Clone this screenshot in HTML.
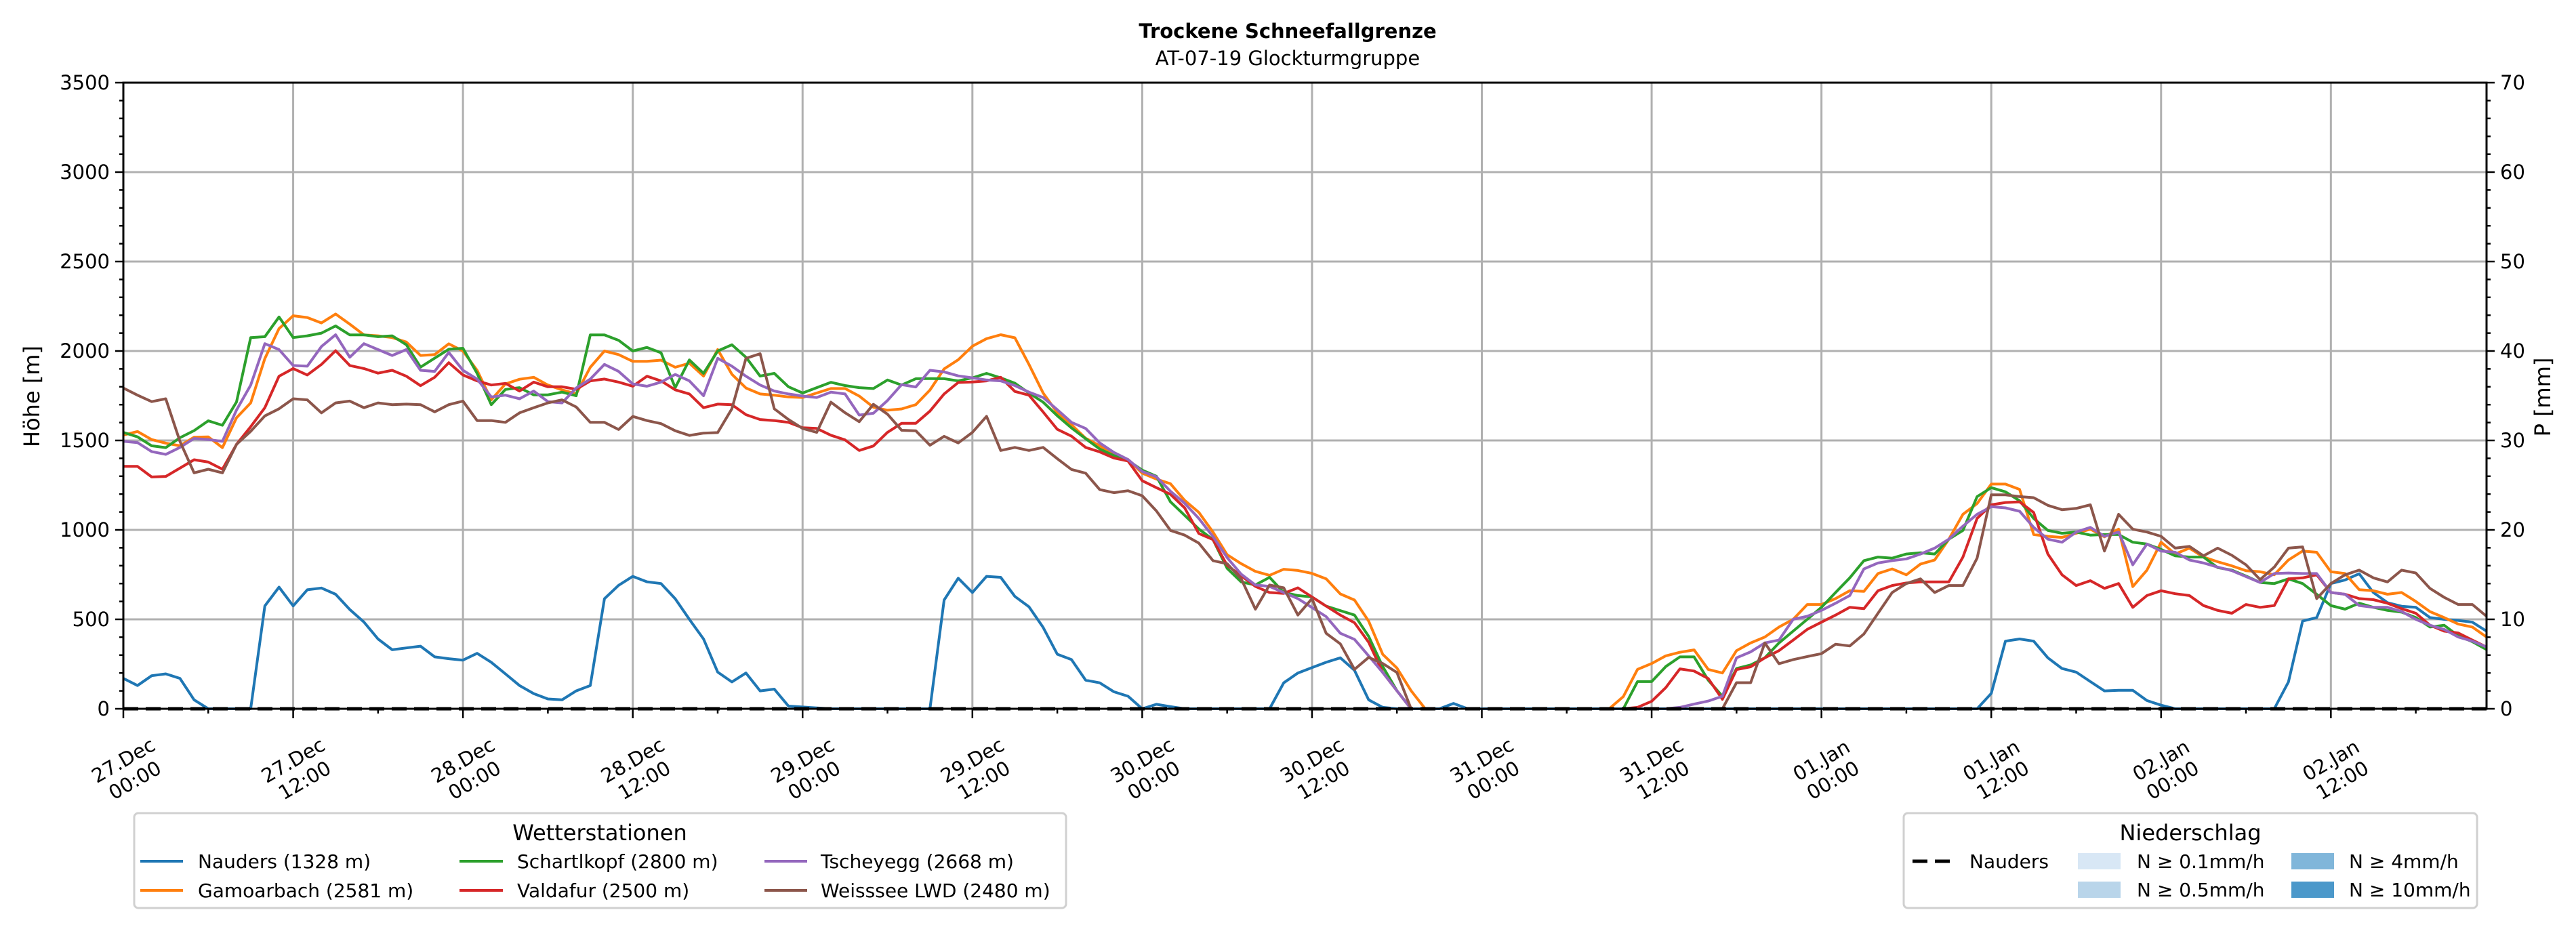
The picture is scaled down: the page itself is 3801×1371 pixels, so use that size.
<!DOCTYPE html>
<html><head><meta charset="utf-8"><style>
html,body{margin:0;padding:0;background:#fff}
svg{display:block;font-family:"DejaVu Sans","Liberation Sans",sans-serif}
</style></head><body>
<svg id="chart" width="3801" height="1371" viewBox="0 0 3801 1371" xmlns="http://www.w3.org/2000/svg">
<rect width="3801" height="1371" fill="#fff"/>
<text x="1900" y="56" font-size="29" font-weight="bold" text-anchor="middle">Trockene Schneefallgrenze</text>
<text x="1900" y="96" font-size="29" text-anchor="middle">AT-07-19 Glockturmgruppe</text>
<g id="grid"></g>
<g id="series"></g>
<g id="axes"></g>
<text transform="translate(58,585) rotate(-90)" font-size="32" text-anchor="middle">Höhe [m]</text>
<text transform="translate(3763,586) rotate(-90)" font-size="32" text-anchor="middle">P [mm]</text>

<g>
<rect x="198" y="1200" width="1375" height="140" rx="6" fill="#fff" stroke="#d0d0d0" stroke-width="3"/>
<text x="885" y="1240" font-size="32" text-anchor="middle">Wetterstationen</text>
<g><line x1="207" y1="1271" x2="270" y2="1271" stroke="#1f77b4" stroke-width="4"/><text x="292" y="1281" font-size="28">Nauders (1328 m)</text></g>
<g><line x1="207" y1="1314" x2="270" y2="1314" stroke="#ff7f0e" stroke-width="4"/><text x="292" y="1324" font-size="28">Gamoarbach (2581 m)</text></g>
<g><line x1="678" y1="1271" x2="742" y2="1271" stroke="#2ca02c" stroke-width="4"/><text x="763" y="1281" font-size="28">Schartlkopf (2800 m)</text></g>
<g><line x1="678" y1="1314" x2="742" y2="1314" stroke="#d62728" stroke-width="4"/><text x="763" y="1324" font-size="28">Valdafur (2500 m)</text></g>
<g><line x1="1128" y1="1271" x2="1191" y2="1271" stroke="#9467bd" stroke-width="4"/><text x="1211" y="1281" font-size="28">Tscheyegg (2668 m)</text></g>
<g><line x1="1128" y1="1314" x2="1191" y2="1314" stroke="#8c564b" stroke-width="4"/><text x="1211" y="1324" font-size="28">Weisssee LWD (2480 m)</text></g>
</g>

<g>
<rect x="2809" y="1200" width="846" height="140" rx="6" fill="#fff" stroke="#d0d0d0" stroke-width="3"/>
<text x="3232" y="1240" font-size="32" text-anchor="middle">Niederschlag</text>
<g><line x1="2822" y1="1271" x2="2882" y2="1271" stroke="#000" stroke-width="5" stroke-dasharray="22 11"/><text x="2906" y="1281" font-size="28">Nauders</text></g>
<g><rect x="3066" y="1259" width="63" height="24" fill="#d8e7f5"/><text x="3153" y="1281" font-size="28">N ≥ 0.1mm/h</text></g>
<g><rect x="3066" y="1301" width="63" height="24" fill="#b9d5ea"/><text x="3153" y="1323" font-size="28">N ≥ 0.5mm/h</text></g>
<g><rect x="3381" y="1259" width="63" height="24" fill="#80b6da"/><text x="3466" y="1281" font-size="28">N ≥ 4mm/h</text></g>
<g><rect x="3381" y="1301" width="63" height="24" fill="#4b98ca"/><text x="3466" y="1323" font-size="28">N ≥ 10mm/h</text></g>
</g>
</svg>
<script>
const hours = Array.from({length:168},(_,i)=>i);
const xTickLabels = ["27.Dec|00:00","27.Dec|12:00","28.Dec|00:00","28.Dec|12:00","29.Dec|00:00","29.Dec|12:00","30.Dec|00:00","30.Dec|12:00","31.Dec|00:00","31.Dec|12:00","01.Jan|00:00","01.Jan|12:00","02.Jan|00:00","02.Jan|12:00"];
const yTicks = [0,500,1000,1500,2000,2500,3000,3500];
const y2Ticks = [0,10,20,30,40,50,60,70];
const N = null;
const nauders = [170,130,185,195,170,50,0,0,0,0, 575,680,575,665,675,640,555,485,390,330, 340,350,290,280,272,310,260,195,130,85, 55,50,100,130,615,690,740,710,700,615, 500,390,205,150,200,100,110,15,10,5, 0,0,0,0,0,0,0,0,608,730, 650,740,735,628,570,455,305,275,160,145, 95,70,0,25,12,0,0,0,0,0, 0,0,145,200,230,260,285,215,50,8, 0,0,0,0,30,0,0,0,0,0, 0,0,0,0,0,0,0,0,0,0, 0,0,0,0,0,0,0,0,0,0, 0,0,0,0,0,0,0,0,0,0, 0,0,86,378,390,378,285,225,205,152, 100,103,103,46,20,0,0,0,0,0, 0,0,0,150,490,510,700,720,755,650, 593,573,567,510,500,494,484,434];
const gamoarbach = [1530,1550,1505,1485,1470,1518,1520,1460,1627,1710, 1958,2125,2197,2187,2157,2207,2150,2090,2085,2075, 2050,1975,1980,2040,2000,1892,1727,1816,1842,1853, 1810,1783,1760,1909,2000,1980,1942,1942,1949,1909, 1932,1860,2008,1870,1793,1760,1753,1743,1740,1765, 1790,1790,1748,1686,1669,1676,1700,1782,1900,1951, 2027,2069,2091,2074,1925,1765,1655,1588,1512,1470, 1419,1393,1317,1284,1258,1165,1098,988,861,811, 768,746,780,773,757,726,642,608,490,304, 228,101,0,N,N,N,N,N,N,N, N,N,N,N,N,0,68,220,253,296, 316,329,220,200,325,368,401,457,500,583, 583,616,660,656,756,782,749,809,832,948, 1087,1147,1256,1256,1226,974,964,958,981,1004, 961,1004,683,775,931,865,898,848,822,799, 772,766,749,832,882,875,766,756,666,660, 640,650,600,543,510,474,457,401];
const schartlkopf = [1545,1520,1470,1460,1515,1555,1610,1585,1715,2075, 2080,2190,2075,2085,2100,2140,2090,2090,2080,2085, 2035,1910,1960,2010,2015,1875,1700,1785,1795,1755, 1755,1770,1750,2090,2090,2060,2000,2020,1990,1795, 1950,1875,2000,2035,1965,1860,1875,1800,1765,1795, 1825,1807,1795,1790,1838,1810,1845,1846,1845,1833, 1850,1875,1850,1820,1765,1714,1638,1570,1510,1452, 1415,1388,1334,1300,1157,1081,1005,946,785,709, 692,735,650,633,625,574,549,524,405,236, 101,0,N,N,N,N,N,N,N,N, N,N,N,N,N,N,0,152,152,236, 290,290,160,70,225,245,285,368,434,500, 567,650,732,828,848,842,865,872,865,948, 997,1186,1236,1213,1163,1064,997,981,988,971, 974,974,931,921,891,855,848,848,789,775, 742,706,700,726,700,640,577,557,590,567, 550,540,510,457,467,408,375,331];
const valdafur = [1355,1355,1296,1299,1345,1392,1379,1339,1478,1577, 1683,1859,1902,1866,1925,2002,1919,1902,1876,1892, 1859,1806,1853,1935,1866,1833,1810,1819,1776,1826, 1800,1800,1786,1833,1843,1826,1803,1859,1833,1783, 1760,1683,1703,1700,1644,1617,1611,1601,1571,1567, 1529,1503,1444,1469,1545,1596,1596,1664,1760,1824, 1827,1833,1853,1774,1753,1659,1562,1524,1461,1436, 1402,1385,1275,1236,1199,1123,980,946,802,743, 684,650,645,676,625,574,524,481,372,203, 101,0,N,N,N,N,N,N,N,N, N,N,N,N,N,N,0,8,42,118, 223,211,169,53,219,235,285,325,384,444, 484,524,567,560,660,689,703,709,709,709, 848,1064,1140,1153,1157,1097,865,749,689,716, 673,700,567,633,660,643,633,577,550,534, 583,567,577,726,732,749,650,640,616,610, 590,560,534,467,434,424,384,345];
const tscheyegg = [1495,1488,1438,1422,1461,1511,1505,1495,1670,1809, 2041,2008,1919,1915,2025,2091,1965,2041,2008,1975, 2008,1892,1886,1992,1892,1843,1743,1753,1733,1776, 1717,1710,1793,1843,1925,1886,1816,1803,1826,1869, 1833,1750,1959,1915,1859,1810,1776,1760,1748,1740, 1770,1760,1642,1652,1723,1812,1799,1892,1883,1861, 1850,1838,1833,1807,1770,1740,1672,1601,1567,1486, 1433,1393,1326,1297,1216,1149,1064,963,845,752, 692,684,650,616,566,515,422,388,296,203, 101,0,N,N,N,N,N,N,N,N, N,N,N,N,N,N,N,N,N,0, 8,26,43,70,285,318,368,384,500,517, 550,590,633,782,815,828,838,865,898,948, 1021,1087,1130,1123,1104,1014,948,931,988,1014, 964,988,805,921,882,875,832,815,792,772, 739,706,756,759,756,756,650,640,577,567, 567,544,500,467,444,401,378,345];
const weisssee = [1793,1753,1717,1733,1495,1319,1339,1319,1478,1551, 1637,1677,1733,1727,1654,1710,1720,1683,1710,1700, 1703,1700,1660,1700,1720,1611,1611,1601,1654,1683, 1710,1727,1687,1601,1601,1561,1634,1611,1594,1554, 1528,1541,1544,1677,1959,1985,1677,1617,1567,1545, 1714,1655,1605,1702,1647,1557,1554,1473,1523,1486, 1545,1635,1444,1461,1444,1461,1398,1338,1317,1225, 1208,1219,1191,1106,997,971,926,828,811,726, 557,692,676,524,616,422,363,220,287,253, 203,0,N,N,N,N,N,N,N,N, N,N,N,N,N,N,N,N,N,N, N,N,N,0,146,146,368,252,275,292, 308,361,351,418,534,650,700,726,650,689, 689,842,1196,1196,1186,1180,1137,1113,1120,1140, 882,1087,1004,988,964,898,908,855,898,858, 805,722,792,898,905,616,700,749,775,732, 709,775,759,673,623,583,583,517];
const precipNauders = new Array(168).fill(0);

const L=182,R=3669,T=122,B=1046,HMAX=167,YMAX=3500,PMAX=70;
const xs=h=>L+h*(R-L)/HMAX;
const ys=v=>B-v*(B-T)/YMAX;
const ys2=v=>B-v*(B-T)/PMAX;
const NS="http://www.w3.org/2000/svg";
function mk(tag,attrs,parent){const e=document.createElementNS(NS,tag);for(const k in attrs)e.setAttribute(k,attrs[k]);parent.appendChild(e);return e;}
const grid=document.getElementById('grid'),axes=document.getElementById('axes'),ser=document.getElementById('series');

yTicks.forEach(v=>{
  const l=mk('line',{x1:L,x2:R,y1:ys(v),y2:ys(v),stroke:'#b0b0b0','stroke-width':3},grid);
  
  
});
xTickLabels.forEach((s,i)=>{
  const x=xs(i*12);
  const l=mk('line',{x1:x,x2:x,y1:T,y2:B,stroke:'#b0b0b0','stroke-width':3},grid);
  
  
});

function drawLine(vals,color,name){
  let d='',pen=false;
  vals.forEach((v,i)=>{
    if(v===null){pen=false;return;}
    d+=(pen?'L':'M')+xs(hours[i]).toFixed(1)+' '+ys(v).toFixed(1);pen=true;
  });
  const p=mk('path',{d:d,fill:'none',stroke:color,'stroke-width':4,'stroke-linejoin':'round'},ser);
  
  
}
drawLine(nauders,'#1f77b4','line-nauders');
drawLine(gamoarbach,'#ff7f0e','line-gamoarbach');
drawLine(schartlkopf,'#2ca02c','line-schartlkopf');
drawLine(valdafur,'#d62728','line-valdafur');
drawLine(tscheyegg,'#9467bd','line-tscheyegg');
drawLine(weisssee,'#8c564b','line-weisssee');
{
  let d='';precipNauders.forEach((v,i)=>{d+=(i?'L':'M')+xs(hours[i]).toFixed(1)+' '+ys2(v).toFixed(1);});
  const p=mk('path',{d:d,fill:'none',stroke:'#000','stroke-width':5,'stroke-dasharray':'22 11'},ser);
  
  
}

const fr=mk('rect',{x:L,y:T,width:R-L,height:B-T,fill:'none',stroke:'#000','stroke-width':3},axes);


for(let v=0;v<=YMAX;v+=100){
  const major=v%500===0;const len=major?12:6;
  mk('line',{x1:L-len,x2:L,y1:ys(v),y2:ys(v),stroke:'#000','stroke-width':2.5},axes);
}
for(let v=0;v<=PMAX;v+=2){
  const major=v%10===0;const len=major?12:6;
  mk('line',{x1:R,x2:R+len,y1:ys2(v),y2:ys2(v),stroke:'#000','stroke-width':2.5},axes);
}
for(let h=0;h<=HMAX;h+=6){
  const major=h%12===0;const len=major?14:7;
  mk('line',{x1:xs(h),x2:xs(h),y1:B,y2:B+len,stroke:'#000','stroke-width':2.5},axes);
}
yTicks.forEach(v=>{
  const t=mk('text',{x:L-20,y:ys(v)+10,'font-size':29,'text-anchor':'end'},axes);t.textContent=v;
  
  
});
y2Ticks.forEach(v=>{
  const t=mk('text',{x:R+20,y:ys2(v)+10,'font-size':29},axes);t.textContent=v;
  
  
});
xTickLabels.forEach((s,i)=>{
  const x=xs(i*12),parts=s.split('|');
  const g=mk('g',{transform:`translate(${x+8},1136) rotate(-30)`},axes);
  
  
  const t1=mk('text',{x:0,y:-6,'font-size':29,'text-anchor':'middle'},g);t1.textContent=parts[0];
  const t2=mk('text',{x:0,y:28,'font-size':29,'text-anchor':'middle'},g);t2.textContent=parts[1];
});
</script>
</body></html>
